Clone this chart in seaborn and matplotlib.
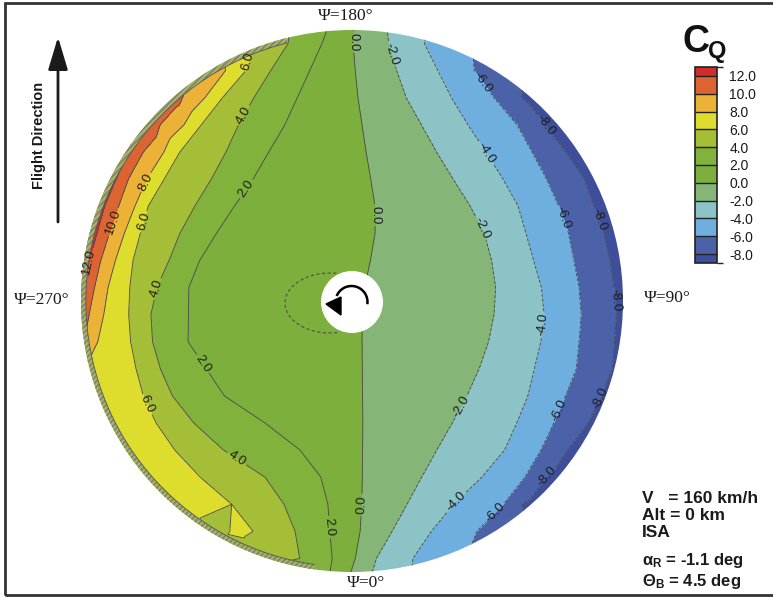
import numpy as np
import matplotlib
matplotlib.use("Agg")
import matplotlib.pyplot as plt
import matplotlib.tri as mtri
import seaborn as sns
from matplotlib.patches import Circle, Arc, Polygon, Rectangle, Wedge
from matplotlib.colors import ListedColormap, BoundaryNorm

nan = np.nan

# ---------------- data (rotor disk, units of r/R) ----------------
# horizontal rows across the disk (v = +1 is Psi=180 at top, v = -1 is Psi=0 at bottom)
row_v = [0.95, 0.85, 0.75, 0.65, 0.55, 0.45, 0.35, 0.25, 0.15, 0.05,
         -0.05, -0.15, -0.25, -0.35, -0.45, -0.55, -0.65, -0.75, -0.85, -0.95]

# horizontal position (u) where each C_Q contour crosses each row
cross_p12 = [nan, nan, nan, nan, -0.818, -0.870, -0.913, -0.941, -0.969, -0.987,
             nan, nan, nan, nan, nan, nan, nan, nan, nan, nan]
cross_p10 = [nan, nan, -0.625, -0.708, -0.770, -0.825, -0.861, -0.895, -0.927, -0.950,
             -0.970, nan, nan, nan, nan, nan, nan, nan, nan, nan]
cross_p8 = [nan, -0.467, -0.543, -0.620, -0.694, -0.757, -0.801, -0.840, -0.873, -0.900,
            -0.916, -0.938, nan, nan, nan, nan, nan, nan, nan, nan]
cross_p6 = [nan, -0.392, -0.478, -0.556, -0.635, -0.693, -0.752, -0.781, -0.808, -0.820,
            -0.824, -0.817, -0.797, -0.770, -0.723, -0.654, -0.560, -0.444, -0.365, nan]
cross_p4 = [-0.236, -0.300, -0.362, -0.419, -0.465, -0.519, -0.580, -0.635, -0.675, -0.720,
            -0.742, -0.736, -0.707, -0.663, -0.584, -0.474, -0.321, -0.251, -0.210, -0.193]
cross_p2 = [-0.111, -0.156, -0.202, -0.248, -0.307, -0.365, -0.434, -0.500, -0.562, -0.602,
            -0.621, -0.605, -0.566, -0.471, -0.321, -0.192, -0.115, -0.089, -0.082, -0.073]
cross_0 = [0.004, 0.012, 0.022, 0.037, 0.052, 0.069, 0.085, 0.085, 0.068, 0.046,
           0.037, 0.037, 0.038, 0.039, 0.040, 0.039, 0.038, 0.036, 0.030, 0.012]
cross_m2 = [0.135, 0.165, 0.200, 0.256, 0.312, 0.373, 0.436, 0.488, 0.515, 0.530,
            0.524, 0.504, 0.469, 0.424, 0.370, 0.313, 0.257, 0.203, 0.148, 0.090]
cross_m4 = [0.267, 0.317, 0.367, 0.428, 0.494, 0.557, 0.613, 0.642, 0.670, 0.699,
            0.709, 0.697, 0.673, 0.649, 0.608, 0.563, 0.479, 0.375, 0.293, 0.225]
cross_m6 = [nan, 0.451, 0.524, 0.609, 0.664, 0.718, 0.763, 0.799, 0.819, 0.838,
            0.846, 0.838, 0.828, 0.788, 0.745, 0.697, 0.638, 0.559, 0.461, nan]
cross_m8 = [nan, nan, 0.626, 0.713, 0.789, 0.857, 0.893, 0.929, 0.952, 0.967,
            0.976, 0.969, 0.961, 0.920, 0.872, 0.796, 0.717, 0.627, nan, nan]

# peak value just inside the left (retreating-side) blade tip and its position
shoulder_u = [-0.284, -0.506, -0.646, -0.745, -0.827, -0.886, -0.930, -0.959, -0.983, -0.994,
              -0.989, -0.974, -0.930, -0.893, -0.849, -0.782, -0.701, -0.590, -0.413, -0.266]
shoulder_val = [5.0, 9.2, 10.8, 11.6, 12.3, 12.6, 12.8, 12.8, 12.6, 12.2,
                11.0, 9.2, 7.6, 7.4, 7.2, 7.1, 7.0, 6.8, 6.4, 4.4]

# values on the disk rim at the two ends of every row
rim_left = [5.2, 9.4, 11.0, 11.8, 12.4, 12.7, 12.9, 12.9, 12.7, 12.3,
            11.2, 9.5, 7.4, 7.0, 6.8, 6.6, 6.4, 6.3, 5.2, 4.2]
rim_right = [-4.7, -7.1, -8.5, -8.7, -8.8, -8.8, -8.9, -8.9, -8.9, -8.9,
             -8.8, -8.7, -8.5, -8.6, -8.6, -8.7, -8.6, -8.4, -7.0, -5.2]

# rim values near Psi=180 (top) and Psi=0 (bottom)
rim_cap_u = [-0.2, -0.1, 0.0, 0.1, 0.2]
rim_top_val = [3.6, 2.1, 0.1, -1.5, -3.1]
rim_bot_val = [3.3, 2.5, -0.1, -2.6, -3.9]

levels = [-8, -6, -4, -2, 0, 2, 4, 6, 8, 10, 12]
band_colors = ["#3F4E9A", "#4B62A8", "#6EAFE0", "#8CC3C6", "#85B678", "#7DAF3C",
               "#80B23C", "#A5BE37", "#DEDC2D", "#EBB237", "#DC6432", "#D22D2D"]
cbar_bounds = [-9, -8, -6, -4, -2, 0, 2, 4, 6, 8, 10, 12, 13]
cbar_ticks = [12, 10, 8, 6, 4, 2, 0, -2, -4, -6, -8]

# where the reference prints contour labels (image pixels)
label_spots_px = [(357, 42), (375, 215), (360, 505),
                  (388, 55), (481, 228), (463, 407),
                  (487, 152), (545, 325), (455, 500),
                  (483, 82), (563, 218), (558, 410), (500, 517),
                  (550, 122), (594, 222), (616, 300), (600, 398), (548, 478),
                  (252, 62), (243, 115), (245, 188), (145, 182), (145, 222),
                  (113, 222), (154, 288), (88, 262), (198, 367), (142, 407),
                  (236, 460), (330, 527)]

info_lines = ["V   = 160 km/h", "Alt = 0 km", "ISA"]
angle_lines = [r"$\alpha_R$ = -1.1 deg", r"$\Theta_B$ = 4.5 deg"]

# ---------------- style ----------------
sns.set_theme(style="white")
plt.rcParams["font.family"] = ["Liberation Sans", "DejaVu Sans"]
plt.rcParams["mathtext.fontset"] = "custom"
plt.rcParams["mathtext.rm"] = "Liberation Sans:bold"
plt.rcParams["mathtext.it"] = "Liberation Sans:bold"
plt.rcParams["mathtext.bf"] = "Liberation Sans:bold"
plt.rcParams["mathtext.default"] = "rm"
plt.rcParams["axes.unicode_minus"] = False

W, H = 773, 597
CX, CY, R = 352.0, 301.0, 271.0

fig = plt.figure(figsize=(W / 100, H / 100), dpi=100)
ax = fig.add_axes([0, 0, 1, 1])
ax.set_xlim(-CX / R, (W - CX) / R)
ax.set_ylim((CY - H) / R, CY / R)
ax.axis("off")


def px(x, y):
    return ((x - CX) / R, (CY - y) / R)


def fx(x):
    return x / W


def fy(y):
    return 1 - y / H


# ---------------- scattered samples ----------------
crossings = [(12, cross_p12), (10, cross_p10), (8, cross_p8), (6, cross_p6), (4, cross_p4),
             (2, cross_p2), (0, cross_0), (-2, cross_m2), (-4, cross_m4), (-6, cross_m6),
             (-8, cross_m8)]
us, vs, zs = [], [], []
for i, v in enumerate(row_v):
    w = np.sqrt(1 - v * v)
    for lev, arr in crossings:
        if not np.isnan(arr[i]):
            us.append(arr[i]); vs.append(v); zs.append(lev)
    us.append(shoulder_u[i]); vs.append(v); zs.append(shoulder_val[i])
    for s, val in ((-1, rim_left[i]), (1, rim_right[i])):
        for rr in (1.0, 1.04):
            us.append(s * w * rr); vs.append(v * rr); zs.append(val)
for u, vt, vb in zip(rim_cap_u, rim_top_val, rim_bot_val):
    c = np.sqrt(1 - u * u)
    for rr in (1.0, 1.04):
        us.append(u * rr); vs.append(c * rr); zs.append(vt)
        us.append(u * rr); vs.append(-c * rr); zs.append(vb)

tri = mtri.Triangulation(us, vs)
z = np.array(zs)

disk = Circle((0, 0), 1.0, transform=ax.transData)
cf = ax.tricontourf(tri, z, levels=[-30] + levels + [30], colors=band_colors, zorder=1)
cf.set_clip_path(disk)
cs = ax.tricontour(tri, z, levels=levels, colors="#4d4d4d", linewidths=0.65, zorder=2)
cs.set_clip_path(disk)
ax.clabel(cs, fmt=lambda val: f"{val:.1f}", fontsize=9.5, colors="#1e1e1e", inline=True,
          inline_spacing=2, manual=[px(x, y) for x, y in label_spots_px])

# thin tip band along the retreating-side rim (densely packed contours in the reference)
tip_band = Wedge((0, 0), 1.0, 104, 262, width=0.018, facecolor="#A3B45E",
                 edgecolor="#7a7a7a", hatch="//////", lw=0, zorder=2.5)
ax.add_patch(tip_band)
ax.add_patch(Arc((0, 0), 2 * 0.982, 2 * 0.982, theta1=104, theta2=262,
                 color="#555555", lw=0.6, zorder=2.6))

# hub, rotation arrow, small islands around hub
ax.add_patch(Arc(px(330, 303), 2 * 45 / R, 2 * 30 / R, theta1=78, theta2=285,
                 color="#555555", lw=0.9, ls=(0, (2.5, 2)), zorder=3))
ax.add_patch(Circle(px(352, 302), 31 / R, facecolor="white", edgecolor="none", zorder=5))
ax.add_patch(Arc(px(351.5, 302), 2 * 16 / R, 2 * 16 / R, theta1=-8, theta2=158,
                 color="black", lw=1.8, zorder=6))
ax.add_patch(Polygon([px(326, 304), px(341, 297), px(341, 315)], closed=True,
                     facecolor="black", edgecolor="black", zorder=6))

# flight direction arrow
ax.annotate("", xy=px(58, 37), xytext=px(58, 222),
            arrowprops=dict(arrowstyle="-|>,head_length=1.0,head_width=0.3", lw=2,
                            color="#1a1a1a", mutation_scale=20, shrinkA=0, shrinkB=0))
fig.text(fx(39), fy(135), "Flight Direction", rotation=90, ha="center", va="center",
         fontsize=10.5, fontweight="bold", color="#1a1a1a")

# azimuth labels
serif = ["Liberation Serif", "DejaVu Serif"]
for txt, x, y in [("\u03a8=180\u00b0", 346, 16), ("\u03a8=0\u00b0", 366, 583),
                  ("\u03a8=270\u00b0", 42, 300), ("\u03a8=90\u00b0", 667, 298)]:
    fig.text(fx(x), fy(y), txt, ha="center", va="center", fontsize=12.5,
             family=serif, color="#1a1a1a")

# flight condition text
for txt, yb in zip(info_lines, [503, 520, 537]):
    fig.text(fx(642), fy(yb), txt, ha="left", va="baseline", fontsize=12.5,
             fontweight="bold", color="#1a1a1a")
for txt, yb in zip(angle_lines, [565, 586]):
    fig.text(fx(642), fy(yb), txt, ha="left", va="baseline", fontsize=12,
             fontweight="bold", color="#1a1a1a")

# colorbar
cax = fig.add_axes([fx(695), fy(263), 22 / W, 196 / H])
cmap = ListedColormap(band_colors)
norm = BoundaryNorm(cbar_bounds, cmap.N)
sm = plt.cm.ScalarMappable(norm=norm, cmap=cmap)
cb = fig.colorbar(sm, cax=cax, boundaries=cbar_bounds, spacing="proportional",
                  ticks=cbar_ticks, drawedges=True)
cb.ax.set_yticklabels([f"{t:.1f}" for t in cbar_ticks], fontsize=10, color="#1a1a1a")
cb.ax.tick_params(length=0, pad=9)
cb.outline.set_linewidth(1.2)
cb.outline.set_edgecolor("#222222")
cb.dividers.set_color("#222222")
cb.dividers.set_linewidth(1.0)
fig.text(fx(682), fy(52), "C", fontsize=27, fontweight="bold", va="baseline", color="#111111")
fig.text(fx(708), fy(58), "Q", fontsize=17, fontweight="bold", va="baseline", color="#111111")

# outer frame
fig.add_artist(Rectangle((fx(5), fy(595)), fx(790) - fx(5), fy(3) - fy(595),
                         transform=fig.transFigure, fill=False, edgecolor="#333333",
                         lw=2, clip_on=False))

fig.savefig("out.png", dpi=100)
